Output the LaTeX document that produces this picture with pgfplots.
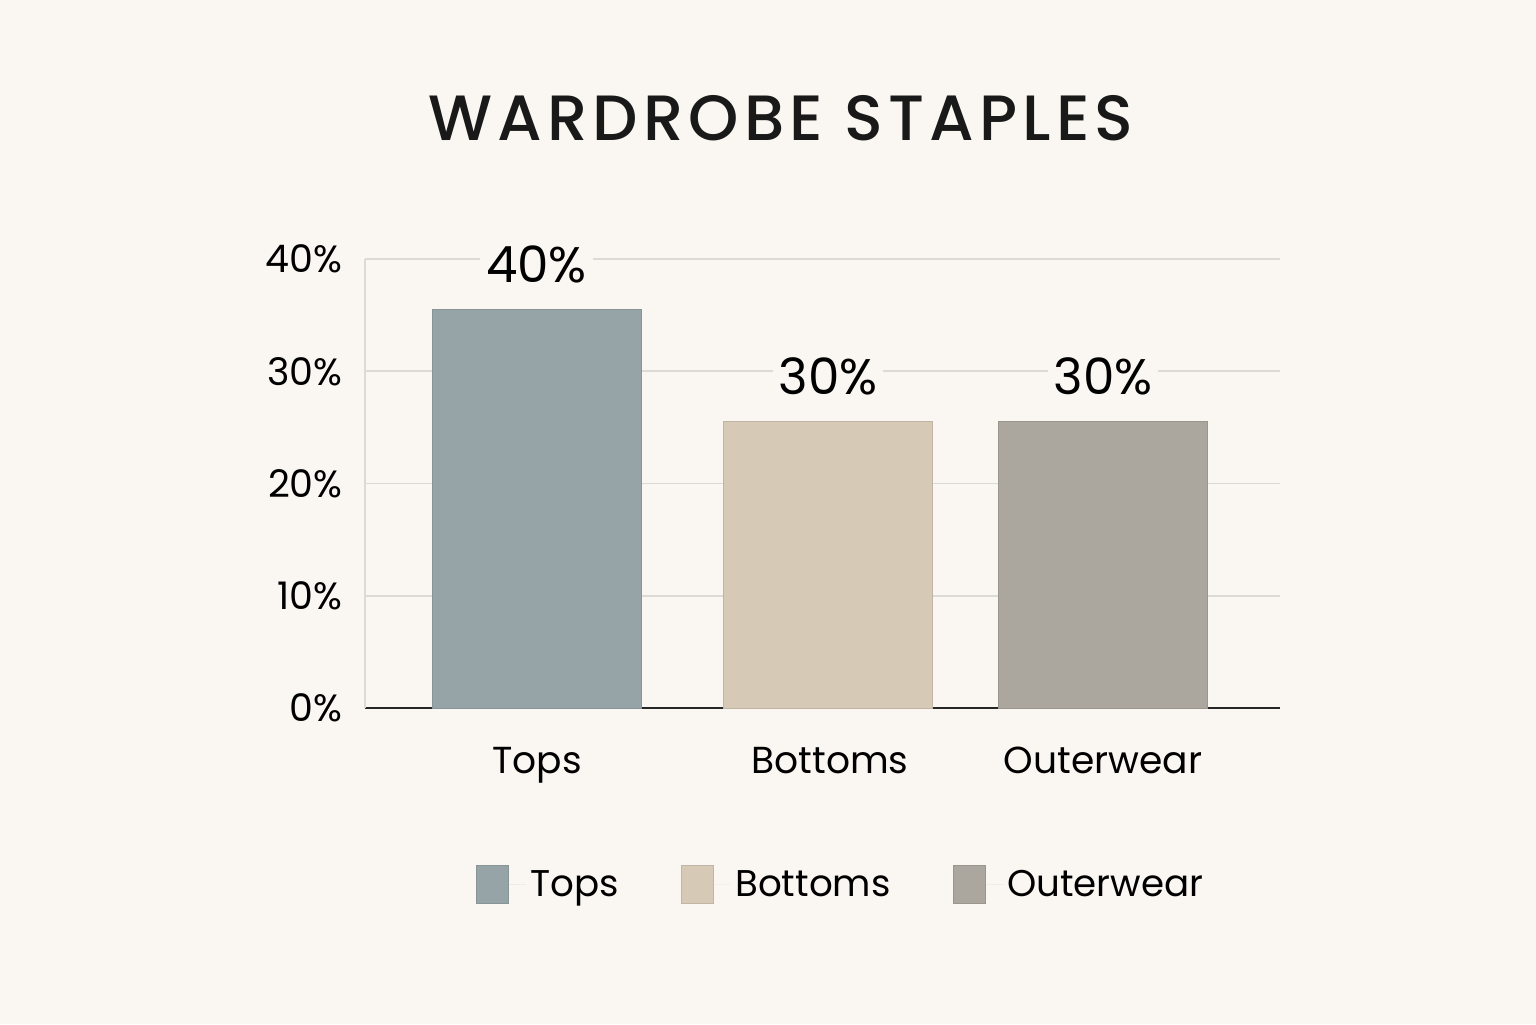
\documentclass[border=0pt]{standalone}
\usepackage{pgfplots}
\pgfplotsset{compat=1.18}
\usepackage{fontspec}
\setmainfont{Poppins}
\newfontfamily\titlefont{Poppins Medium}
\definecolor{bg}{HTML}{FAF7F2}
\definecolor{ctops}{HTML}{97A4A7}
\definecolor{cbottoms}{HTML}{D6CAB7}
\definecolor{couter}{HTML}{ABA79E}
\definecolor{gridc}{HTML}{DCDAD5}
\begin{document}
\begin{tikzpicture}
\fill[bg] (0,0) rectangle (768pt,512pt);
\node[font=\titlefont\fontsize{32}{36}\selectfont\addfontfeature{LetterSpace=8}, text=black!90] at (390.5pt,453pt) {WARDROBE STAPLES};
\begin{axis}[
  at={(182.5pt,158pt)}, anchor=south west,
  scale only axis, width=457.5pt, height=224.5pt,
  xmin=365, xmax=1280, ymin=0, ymax=40,
  ybar, bar width=209, bar shift=0pt,
  axis x line*=bottom, axis y line*=left,
  x axis line style={draw=black!85, line width=1pt, -},
  y axis line style={draw=gridc, line width=0.8pt, -},
  ymajorgrids, grid style={draw=gridc, line width=0.8pt},
  major tick length=0pt,
  xtick={537,830,1103}, xticklabels={Tops,Bottoms,Outerwear},
  ytick={0,10,20,30,40},
  yticklabel={\pgfmathprintnumber{\tick}\%},
  /pgf/number format/assume math mode=true,
  yticklabel style={font=\fontsize{19}{22}\selectfont, anchor=east, inner sep=0pt, xshift=-11pt},
  xticklabel style={font=\fontsize{18.8}{22}\selectfont, anchor=north, inner sep=0pt, yshift=-19.5pt},
  point meta=explicit symbolic,
  nodes near coords,
  every node near coord/.append style={font=\fontsize{25}{28}\selectfont, anchor=center, yshift=22.5pt, fill=bg, inner sep=3pt},
  legend columns=3,
  legend style={at={(0.5208,-0.394)}, anchor=center, draw=none, fill=none,
    font=\fontsize{18.6}{22}\selectfont,
    /tikz/every even column/.append style={column sep=29pt}},
  legend image code/.code={\fill[#1] (0pt,-9.5pt) rectangle (16pt,9.5pt); \path[draw=none] (0pt,0pt) -- (25pt,0pt);},
  clip=false,
]
\addplot[fill=ctops, draw=ctops!90!black, line width=0.5pt] table[meta=lab] {
x y lab
536.5 35.5 40\%
};
\addplot[fill=cbottoms, draw=cbottoms!90!black, line width=0.5pt] table[meta=lab] {
x y lab
828 25.5 30\%
};
\addplot[fill=couter, draw=couter!90!black, line width=0.5pt] table[meta=lab] {
x y lab
1103 25.5 30\%
};
\legend{Tops,Bottoms,Outerwear}
\end{axis}
\pgfresetboundingbox
\useasboundingbox (0,0) rectangle (768pt,512pt);
\end{tikzpicture}
\end{document}
